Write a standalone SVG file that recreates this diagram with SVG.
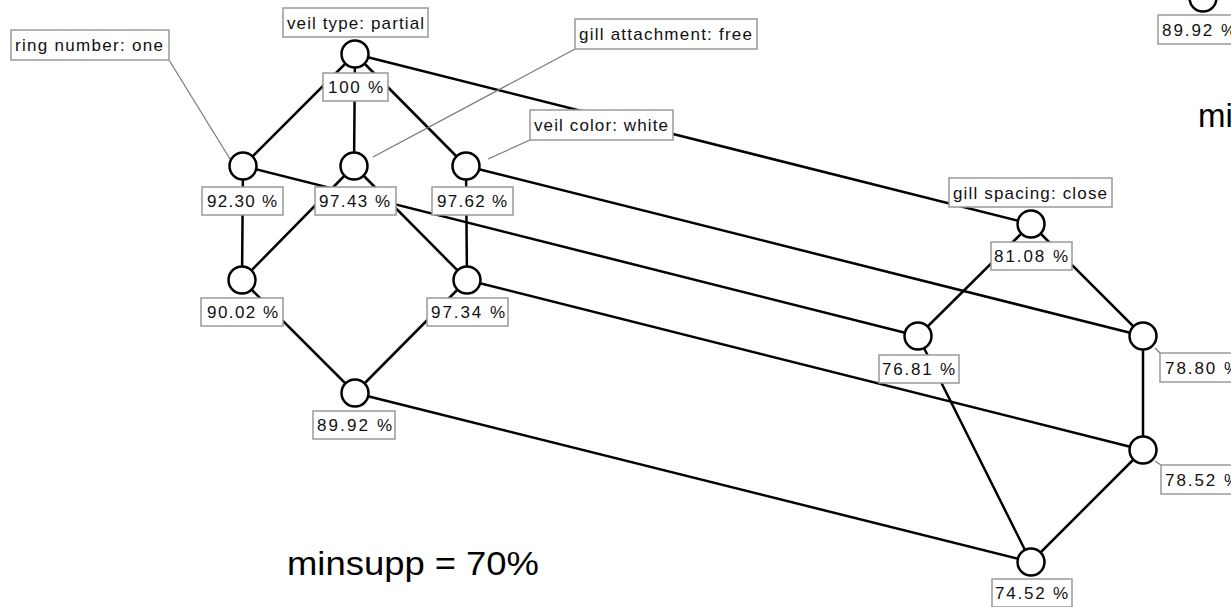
<svg xmlns="http://www.w3.org/2000/svg" width="1231" height="607" viewBox="0 0 1231 607">
  <style>
    .edge { stroke: #000; stroke-width: 2.5; fill: none; stroke-linecap: round; }
    .lead { stroke: #777; stroke-width: 1.2; fill: none; }
    .node { fill: #fff; stroke: #000; stroke-width: 2.5; }
    .box { fill: #fff; stroke: #999; stroke-width: 1.5; }
    .lbl { font-family: "Liberation Sans", Arial, sans-serif; font-size: 17px; fill: #111; }
    .big { font-family: "Liberation Sans", Arial, sans-serif; font-size: 33px; fill: #000; }
  </style>
  <rect width="1231" height="607" fill="#fff"/>

  <!-- lattice edges -->
  <g id="connectors">
    <line class="edge" x1="355" y1="54" x2="243" y2="166"/>
    <line class="edge" x1="355" y1="54" x2="354" y2="166"/>
    <line class="edge" x1="355" y1="54" x2="466" y2="166"/>
    <line class="edge" x1="355" y1="54" x2="1031" y2="224"/>
    <line class="edge" x1="243" y1="166" x2="242" y2="280"/>
    <line class="edge" x1="243" y1="166" x2="918" y2="336"/>
    <line class="edge" x1="354" y1="166" x2="242" y2="280"/>
    <line class="edge" x1="354" y1="166" x2="467" y2="280"/>
    <line class="edge" x1="466" y1="166" x2="467" y2="280"/>
    <line class="edge" x1="466" y1="166" x2="1143" y2="336"/>
    <line class="edge" x1="242" y1="280" x2="355" y2="393"/>
    <line class="edge" x1="467" y1="280" x2="355" y2="393"/>
    <line class="edge" x1="467" y1="280" x2="1143" y2="450"/>
    <line class="edge" x1="355" y1="393" x2="1031" y2="562"/>
    <line class="edge" x1="1031" y1="224" x2="918" y2="336"/>
    <line class="edge" x1="1031" y1="224" x2="1143" y2="336"/>
    <line class="edge" x1="918" y1="336" x2="1031" y2="562"/>
    <line class="edge" x1="1143" y1="336" x2="1143" y2="450"/>
    <line class="edge" x1="1143" y1="450" x2="1031" y2="562"/>
    <!-- attribute label leaders -->
    <line class="lead" x1="169" y1="60" x2="230" y2="159"/>
    <line class="lead" x1="575" y1="49" x2="373" y2="157"/>
    <line class="lead" x1="530" y1="140" x2="488" y2="159"/>
    <line class="lead" x1="1155" y1="348" x2="1160" y2="353"/>
    <line class="lead" x1="1155" y1="461" x2="1161" y2="465"/>
  </g>

  <g id="n-top">
    <circle class="node" cx="355" cy="54" r="13.5"/>
    <rect class="box" x="283" y="8" width="145" height="29"/>
    <text class="lbl" x="287" y="29" textLength="137" lengthAdjust="spacing">veil type: partial</text>
    <rect class="box" x="323" y="73" width="65" height="28"/>
    <text class="lbl" x="328" y="93" textLength="55" lengthAdjust="spacing">100 %</text>
  </g>

  <g id="n-9230">
    <circle class="node" cx="243" cy="166" r="13.5"/>
    <rect class="box" x="11" y="30" width="158" height="30"/>
    <text class="lbl" x="15" y="51" textLength="148" lengthAdjust="spacing">ring number: one</text>
    <rect class="box" x="202" y="187" width="81" height="28"/>
    <text class="lbl" x="207" y="207" textLength="70" lengthAdjust="spacing">92.30 %</text>
  </g>

  <g id="n-9743">
    <circle class="node" cx="354" cy="166" r="13.5"/>
    <rect class="box" x="575" y="19" width="182" height="30"/>
    <text class="lbl" x="579" y="40" textLength="173" lengthAdjust="spacing">gill attachment: free</text>
    <rect class="box" x="315" y="187" width="81" height="28"/>
    <text class="lbl" x="319" y="207" textLength="71" lengthAdjust="spacing">97.43 %</text>
  </g>

  <g id="n-9762">
    <circle class="node" cx="466" cy="166" r="13.5"/>
    <rect class="box" x="530" y="110" width="143" height="30"/>
    <text class="lbl" x="534" y="131" textLength="134" lengthAdjust="spacing">veil color: white</text>
    <rect class="box" x="432" y="187" width="81" height="28"/>
    <text class="lbl" x="437" y="207" textLength="70" lengthAdjust="spacing">97.62 %</text>
  </g>

  <g id="n-9002">
    <circle class="node" cx="242" cy="280" r="13.5"/>
    <rect class="box" x="201" y="298" width="82" height="28"/>
    <text class="lbl" x="207" y="318" textLength="71" lengthAdjust="spacing">90.02 %</text>
  </g>

  <g id="n-9734">
    <circle class="node" cx="467" cy="280" r="13.5"/>
    <rect class="box" x="427" y="298" width="81" height="28"/>
    <text class="lbl" x="431" y="318" textLength="74" lengthAdjust="spacing">97.34 %</text>
  </g>

  <g id="n-8992">
    <circle class="node" cx="355" cy="393" r="13.5"/>
    <rect class="box" x="313" y="411" width="82" height="28"/>
    <text class="lbl" x="317" y="431" textLength="75" lengthAdjust="spacing">89.92 %</text>
  </g>

  <g id="n-8108">
    <circle class="node" cx="1031" cy="224" r="13.5"/>
    <rect class="box" x="949" y="178" width="163" height="29"/>
    <text class="lbl" x="953" y="199" textLength="154" lengthAdjust="spacing">gill spacing: close</text>
    <rect class="box" x="991" y="242" width="81" height="28"/>
    <text class="lbl" x="994" y="262" textLength="74" lengthAdjust="spacing">81.08 %</text>
  </g>

  <g id="n-7681">
    <circle class="node" cx="918" cy="336" r="13.5"/>
    <rect class="box" x="879" y="355" width="80" height="28"/>
    <text class="lbl" x="882" y="375" textLength="73" lengthAdjust="spacing">76.81 %</text>
  </g>

  <g id="n-7880">
    <circle class="node" cx="1143" cy="336" r="13.5"/>
    <rect class="box" x="1160" y="353" width="80" height="29"/>
    <text class="lbl" x="1165" y="374" textLength="74" lengthAdjust="spacing">78.80 %</text>
  </g>

  <g id="n-7852">
    <circle class="node" cx="1143" cy="450" r="13.5"/>
    <rect class="box" x="1161" y="465" width="80" height="29"/>
    <text class="lbl" x="1165" y="486" textLength="74" lengthAdjust="spacing">78.52 %</text>
  </g>

  <g id="n-7452">
    <circle class="node" cx="1031" cy="562" r="13.5"/>
    <rect class="box" x="992" y="579" width="80" height="28"/>
    <text class="lbl" x="995" y="599" textLength="73" lengthAdjust="spacing">74.52 %</text>
  </g>

  <!-- neighbouring lattice, cut at the right edge -->
  <g id="n-edge">
    <circle class="node" cx="1203" cy="-2" r="13.5"/>
    <rect class="box" x="1158" y="15" width="80" height="29"/>
    <text class="lbl" x="1162" y="36" textLength="74" lengthAdjust="spacing">89.92 %</text>
    <text class="big" x="1198" y="127">mi</text>
  </g>

  <text class="big" x="287" y="575" textLength="252" lengthAdjust="spacingAndGlyphs">minsupp = 70%</text>
</svg>
